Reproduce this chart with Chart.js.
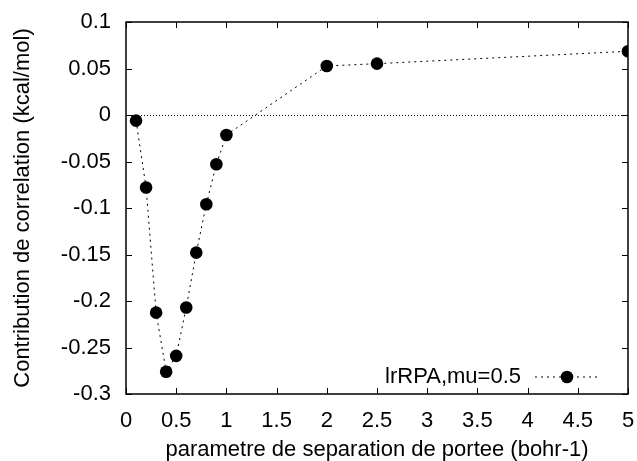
<!DOCTYPE html>
<html>
<head>
<meta charset="utf-8">
<script src="https://cdn.jsdelivr.net/npm/chart.js@4.4.1/dist/chart.umd.min.js"></script>
<style>
  html, body { margin: 0; padding: 0; background: #fff; overflow: hidden; }
  #wrap { width: 637px; height: 461px; }
  canvas { display: block; }
</style>
</head>
<body>
<div id="wrap"><canvas id="myChart" width="637" height="461"></canvas></div>
<script>
// data
const muValues = [0.1, 0.2, 0.3, 0.4, 0.5, 0.6, 0.7, 0.8, 0.9, 1.0, 2.0, 2.5, 5.0];
const correlation = [-0.006, -0.078, -0.2125, -0.276, -0.259, -0.207, -0.148, -0.096, -0.053, -0.0215, 0.0527, 0.0552, 0.0685];
const seriesLabel = "lrRPA,mu=0.5";
const xTitle = "parametre de separation de portee (bohr-1)";
const yTitle = "Contribution de correlation (kcal/mol)";

const FONT = { family: "'Liberation Sans', Arial, sans-serif", size: 22 };

const fmt = (v) => String(Number(v.toFixed(2)));

// invisible tick marks used only as the gap between frame and labels
// (ticks.padding would also push the plot area inwards)
const hiddenGrid = (len) => ({
  display: true,
  drawOnChartArea: false,
  drawTicks: true,
  tickLength: len,
  color: "rgba(0,0,0,0)",
  tickColor: "rgba(0,0,0,0)",
});

// gnuplot-ish frame: box, inward ticks on all sides, zero line, legend
const framePlugin = {
  id: "frame",
  afterDatasetsDraw(chart) {
    const { ctx, chartArea: a, scales } = chart;
    const x = scales.x, y = scales.y;
    ctx.save();

    // zero line
    const y0 = Math.round(y.getPixelForValue(0)) + 0.5;
    ctx.strokeStyle = "#000";
    ctx.lineWidth = 1;
    ctx.setLineDash([1, 2]);
    ctx.beginPath();
    ctx.moveTo(a.left, y0);
    ctx.lineTo(a.right, y0);
    ctx.stroke();
    ctx.setLineDash([]);

    // box
    ctx.lineWidth = 1.5;
    ctx.strokeRect(a.left, a.top, a.right - a.left, a.bottom - a.top);

    // ticks
    const len = 6;
    ctx.lineWidth = 1;
    ctx.beginPath();
    x.ticks.forEach((t) => {
      const px = Math.round(x.getPixelForValue(t.value)) + 0.5;
      ctx.moveTo(px, a.bottom); ctx.lineTo(px, a.bottom - len);
      ctx.moveTo(px, a.top); ctx.lineTo(px, a.top + len);
    });
    y.ticks.forEach((t) => {
      const py = Math.round(y.getPixelForValue(t.value)) + 0.5;
      ctx.moveTo(a.left, py); ctx.lineTo(a.left + len, py);
      ctx.moveTo(a.right, py); ctx.lineTo(a.right - len, py);
    });
    ctx.stroke();

    // legend (bottom right, inside)
    const ds = chart.data.datasets[0];
    const ly = a.bottom - 17;
    ctx.font = FONT.size + "px " + FONT.family;
    ctx.fillStyle = "#000";
    ctx.textAlign = "right";
    ctx.textBaseline = "middle";
    ctx.fillText(ds.label, a.right - 107, ly);
    ctx.setLineDash(ds.borderDash);
    ctx.beginPath();
    ctx.moveTo(a.right - 93, ly);
    ctx.lineTo(a.right - 31, ly);
    ctx.stroke();
    ctx.setLineDash([]);
    ctx.beginPath();
    ctx.arc(a.right - 61, ly, ds.pointRadius, 0, Math.PI * 2);
    ctx.fill();

    ctx.restore();
  }
};

new Chart(document.getElementById("myChart"), {
  type: "line",
  data: {
    datasets: [
      {
        label: seriesLabel,
        data: muValues.map((m, i) => ({ x: m, y: correlation[i] })),
        borderColor: "#000",
        borderWidth: 1,
        borderDash: [2, 4],
        pointRadius: 6.3,
        pointBackgroundColor: "#000",
        pointBorderWidth: 0,
        fill: false,
        tension: 0,
      },
    ],
  },
  options: {
    responsive: false,
    animation: false,
    events: [],
    layout: { padding: { left: 0, top: 22, right: 9, bottom: 0 } },
    plugins: {
      legend: { display: false },
      tooltip: { enabled: false },
    },
    scales: {
      x: {
        type: "linear",
        min: 0,
        max: 5,
        grid: hiddenGrid(14),
        border: { display: false },
        ticks: { stepSize: 0.5, padding: 0, color: "#000", font: FONT, callback: fmt, maxRotation: 0 },
        title: { display: true, text: xTitle, color: "#000", font: FONT, padding: { top: 0, bottom: -2 } },
        afterFit: (s) => { s.height = 67; },
      },
      y: {
        min: -0.3,
        max: 0.1,
        grid: hiddenGrid(15),
        border: { display: false },
        ticks: { stepSize: 0.05, padding: 0, color: "#000", font: FONT, callback: fmt },
        title: { display: true, text: yTitle, color: "#000", font: FONT, padding: { top: 10, bottom: 0 } },
        afterFit: (s) => { s.width = 126; },
      },
    },
  },
  plugins: [framePlugin],
});
</script>
</body>
</html>
